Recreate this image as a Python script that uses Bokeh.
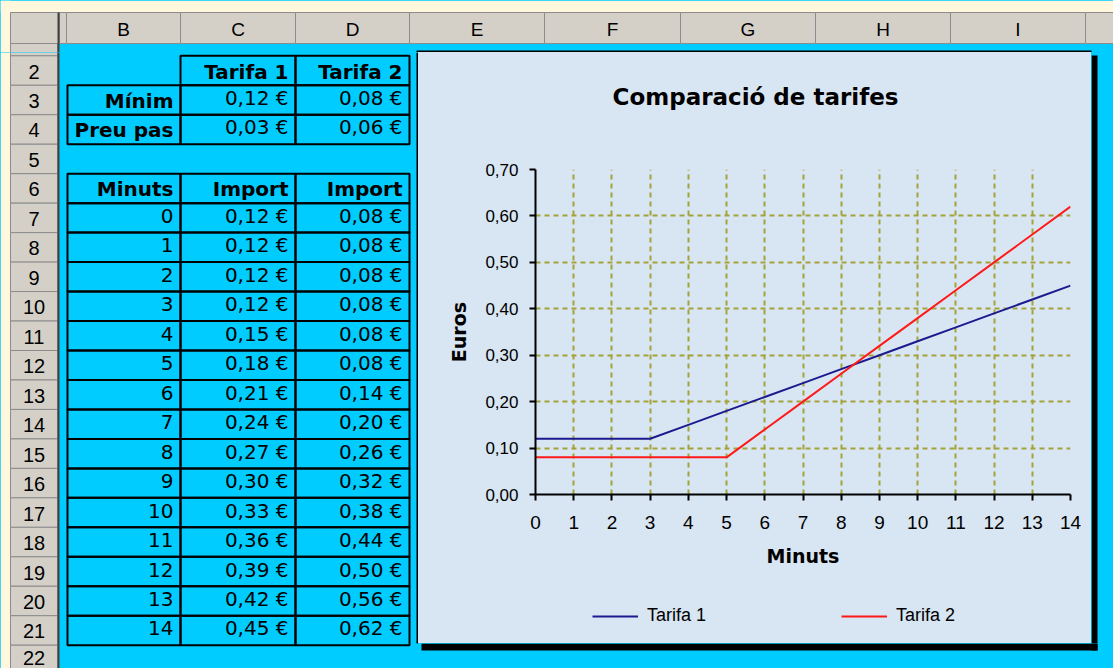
from bokeh.plotting import figure
from bokeh.layouts import column, row
from bokeh.models import (Range1d, ColumnDataSource, FixedTicker, CustomJSTickFormatter,
                          Legend, LegendItem, Label)
from bokeh.core.properties import value
from bokeh.embed import file_html
from bokeh.resources import INLINE

# ---------------- data ----------------
minuts = [0, 1, 2, 3, 4, 5, 6, 7, 8, 9, 10, 11, 12, 13, 14]
tarifa1 = [0.12, 0.12, 0.12, 0.12, 0.15, 0.18, 0.21, 0.24, 0.27, 0.30, 0.33, 0.36, 0.39, 0.42, 0.45]
tarifa2 = [0.08, 0.08, 0.08, 0.08, 0.08, 0.08, 0.14, 0.20, 0.26, 0.32, 0.38, 0.44, 0.50, 0.56, 0.62]
series_names = ["Tarifa 1", "Tarifa 2"]
param_names = ["Mínim", "Preu pas"]
minim = [0.12, 0.08]
preu_pas = [0.03, 0.06]
table_head = ["Minuts", "Import", "Import"]
col_letters = ["A", "B", "C", "D", "E", "F", "G", "H", "I", ""]
row_numbers = ["1", "2", "3", "4", "5", "6", "7", "8", "9", "10", "11",
               "12", "13", "14", "15", "16", "17", "18", "19", "20", "21", "22"]
y_ticks = [0.0, 0.1, 0.2, 0.3, 0.4, 0.5, 0.6, 0.7]
chart_title = "Comparació de tarifes"
x_title = "Minuts"
y_title = "Euros"

# ---------------- styles ----------------
CYAN = "#00CCFF"
CREAM = "#FFF8DC"
GREY = "#D4D0C8"
GREY_LINE = "#8C8C8C"
DARK = "#404040"
CHART_BG = "#D8E5F2"
GRID = "#A3A33A"
BLUE = "#1B1B8F"
RED = "#FF1A1A"
SANS = "Liberation Sans"
NARROW = "Liberation Sans Narrow, Liberation Sans"
WIDE = "DejaVu Sans"

# ---------------- geometry (reference pixels) ----------------
ORG = 0
PAGE_W, PAGE_H = 1113, 668
RIGHT_END, BOTTOM_END = ORG + PAGE_W, ORG + PAGE_H
CREAM_R, CREAM_B = 10, 12
HDR_T, HDR_B = 12, 43
RH_L, RH_R = 10, 57
COL_EDGES = [59, 66, 180, 295, 409, 544, 680, 815, 950, 1085, 1200]
ROW1_T, ROW2_T, ROW_H = 43, 55.3, 29.47
TBL_L = 67
PAD = 7
BOX_L, BOX_T, BOX_R, BOX_B = 418, 52, 1091, 643
TITLE_B, LEG_T = 140, 585
PLOT_L, PLOT_R, PLOT_T, PLOT_B = 535, 1070, 169, 494
SHADOW = 6
TITLE_X, TITLE_Y = 755, 96
LEG_X, LEG_Y, LEG_H = 592, 616, 20


def row_top(k):
    return ROW1_T if k == 1 else ROW2_T + (k - 2) * ROW_H


def row_bot(k):
    return row_top(k + 1)


def row_mid(k):
    return (row_top(k) + row_bot(k)) / 2


def eur(v):
    return f"{v:.2f} €".replace(".", ",")


# ---------------- spreadsheet pieces ----------------
fills = []  # l, r, t, b, fill, line, line_alpha
fills.append((0, CREAM_R, 0, 700, CREAM, CREAM, 0))
fills.append((0, 1200, 0, CREAM_B, CREAM, CREAM, 0))
fills.append((RH_L, COL_EDGES[0], HDR_T, HDR_B, GREY, GREY_LINE, 1))
for i in range(len(col_letters)):
    fills.append((COL_EDGES[i], COL_EDGES[i + 1], HDR_T, HDR_B, GREY, GREY_LINE, 1))
for k in range(1, len(row_numbers) + 1):
    fills.append((RH_L, RH_R, row_top(k), row_bot(k), GREY, GREY_LINE, 1))
fills.append((RH_R, COL_EDGES[0], HDR_T, 700, DARK, DARK, 0))
# chart object frame and shadow
fills.append((BOX_L - 2, BOX_R, BOX_T - 2, BOX_T, "black", "black", 0))
fills.append((BOX_L - 2, BOX_L, BOX_T, BOX_B, "black", "black", 0))
fills.append((BOX_R, BOX_R + SHADOW, BOX_T + 3, BOX_B + SHADOW + 1, "black", "black", 0))
fills.append((BOX_L + 3, BOX_R + SHADOW, BOX_B, BOX_B + SHADOW + 1, "black", "black", 0))

tbl_cols = [(TBL_L, COL_EDGES[2]), (COL_EDGES[2], COL_EDGES[3]), (COL_EDGES[3], COL_EDGES[4])]
cells = []
bold_txt = []
reg_txt = []
B_OFF, R_OFF = 1, -2

# parameter block (rows 2-4)
for j, name in enumerate(series_names):
    l, r = tbl_cols[j + 1]
    cells.append((l, r, row_top(2), row_bot(2)))
    bold_txt.append((r - PAD, row_mid(2) + B_OFF, name))
for i, (pname, vals) in enumerate(zip(param_names, [minim, preu_pas])):
    k = 3 + i
    l, r = tbl_cols[0]
    cells.append((l, r, row_top(k), row_bot(k)))
    bold_txt.append((r - PAD, row_mid(k) + B_OFF, pname))
    for j, v in enumerate(vals):
        l, r = tbl_cols[j + 1]
        cells.append((l, r, row_top(k), row_bot(k)))
        reg_txt.append((r - PAD, row_mid(k) + R_OFF, eur(v)))

# data block (rows 6-21)
for j, h in enumerate(table_head):
    l, r = tbl_cols[j]
    cells.append((l, r, row_top(6), row_bot(6)))
    bold_txt.append((r - PAD, row_mid(6) + B_OFF, h))
for i, (m, a, b) in enumerate(zip(minuts, tarifa1, tarifa2)):
    k = 7 + i
    for j, t in enumerate([str(m), eur(a), eur(b)]):
        l, r = tbl_cols[j]
        cells.append((l, r, row_top(k), row_bot(k)))
        reg_txt.append((r - PAD, row_mid(k) + R_OFF, t))

letter_txt = []
for i, c in enumerate(col_letters):
    if c and COL_EDGES[i + 1] - COL_EDGES[i] > 30:
        letter_txt.append(((COL_EDGES[i] + COL_EDGES[i + 1]) / 2, (HDR_T + HDR_B) / 2 + 1, c))
rownum_txt = []
for k, lab in enumerate(row_numbers, start=1):
    if k > 1:
        # keep the last, partly visible row's number inside the page
        rownum_txt.append(((RH_L + RH_R) / 2, min(row_mid(k) + 1, BOTTOM_END - 11), lab))


def sheet_fig(x0, x1, y0, y1):
    f = figure(width=round(x1 - x0), height=round(y1 - y0),
               x_range=Range1d(x0, x1), y_range=Range1d(y1, y0),
               output_backend="svg", toolbar_location=None,
               x_axis_location=None, y_axis_location=None, min_border=0,
               background_fill_color=CYAN, border_fill_color=CYAN, outline_line_color=None)
    f.grid.visible = False

    def inside_box(it):
        l, r, t, b = it[:4]
        return l < x1 and r > x0 and t < y1 and b > y0

    def inside_pt(it):
        return x0 <= it[0] <= x1 and y0 <= it[1] <= y1

    fl = [it for it in fills if inside_box(it)]
    if fl:
        src = ColumnDataSource(dict(l=[i[0] for i in fl], r=[i[1] for i in fl],
                                    t=[i[2] for i in fl], b=[i[3] for i in fl],
                                    fc=[i[4] for i in fl], lc=[i[5] for i in fl],
                                    la=[i[6] for i in fl]))
        f.quad(left="l", right="r", top="t", bottom="b", fill_color="fc",
               line_color="lc", line_alpha="la", line_width=1, source=src)
    cl = [it for it in cells if inside_box(it)]
    if cl:
        f.quad(left=[i[0] for i in cl], right=[i[1] for i in cl],
               top=[i[2] for i in cl], bottom=[i[3] for i in cl],
               fill_alpha=0, line_color="black", line_width=2)

    def txt(items, font, size, style, align):
        it = [i for i in items if inside_pt(i)]
        if it:
            f.text(x=[i[0] for i in it], y=[i[1] for i in it], text=[i[2] for i in it],
                   text_font=value(font), text_font_size=size, text_font_style=style,
                   text_align=align, text_baseline="middle", text_color="black")

    txt(letter_txt, NARROW, "19px", "normal", "center")
    txt(rownum_txt, NARROW, "20px", "normal", "center")
    txt(bold_txt, WIDE, "20px", "bold", "right")
    txt(reg_txt, WIDE, "20px", "normal", "right")
    return f


def strip_fig(y0, y1):
    # part of the chart object above / below the plot, frame aligned with the plot's frame
    f = figure(width=BOX_R - BOX_L, height=y1 - y0,
               x_range=Range1d(PLOT_L, PLOT_R), y_range=Range1d(y1, y0),
               output_backend="svg", toolbar_location=None,
               x_axis_location=None, y_axis_location=None,
               min_border_left=PLOT_L - BOX_L, min_border_right=BOX_R - PLOT_R,
               min_border_top=0, min_border_bottom=0,
               background_fill_color=CHART_BG, border_fill_color=CHART_BG, outline_line_color=None)
    f.grid.visible = False
    return f


hdr = sheet_fig(ORG, RIGHT_END, ORG, BOX_T)
left = sheet_fig(ORG, BOX_L, BOX_T, BOTTOM_END)
rside = sheet_fig(BOX_R, RIGHT_END, BOX_T, BOX_B)
bside = sheet_fig(BOX_L, RIGHT_END, BOX_B, BOTTOM_END)

# ---------------- chart title strip ----------------
tf = strip_fig(BOX_T, TITLE_B)
tf.add_layout(Label(x=TITLE_X, y=TITLE_Y, text=chart_title, text_align="center",
                    text_baseline="middle", text_font=WIDE, text_font_size="23px",
                    text_font_style="bold", text_color="black"))

# ---------------- chart ----------------
p = figure(width=BOX_R - BOX_L, height=LEG_T - TITLE_B,
           x_range=Range1d(min(minuts), max(minuts)), y_range=Range1d(0, y_ticks[-1]),
           output_backend="svg", toolbar_location=None,
           min_border_left=PLOT_L - BOX_L, min_border_right=BOX_R - PLOT_R,
           min_border_top=PLOT_T - TITLE_B, min_border_bottom=LEG_T - PLOT_B,
           background_fill_color=CHART_BG, border_fill_color=CHART_BG, outline_line_color=None)
p.xaxis.ticker = FixedTicker(ticks=minuts)
p.yaxis.ticker = FixedTicker(ticks=y_ticks)
p.yaxis.formatter = CustomJSTickFormatter(code="return tick.toFixed(2).replace('.', ',');")
for g in (p.xgrid, p.ygrid):
    g.grid_line_color = GRID
    g.grid_line_dash = "5 4"
    g.grid_line_width = 2
p.xgrid.ticker = FixedTicker(ticks=minuts)
p.ygrid.ticker = FixedTicker(ticks=y_ticks)
for ax in (p.xaxis, p.yaxis):
    ax.axis_line_color = "black"
    ax.axis_line_width = 2
    ax.major_tick_line_color = "black"
    ax.major_tick_line_width = 2
    ax.major_tick_out = 6
    ax.major_tick_in = 0
    ax.minor_tick_out = 0
    ax.minor_tick_in = 0
    ax.major_label_text_color = "black"
    ax.axis_label_text_font = WIDE
    ax.axis_label_text_font_style = "bold"
    ax.axis_label_text_font_size = "19px"
    ax.axis_label_text_color = "black"
p.xaxis.major_label_text_font = SANS
p.xaxis.major_label_text_font_size = "19px"
p.xaxis.major_label_standoff = 15
p.xaxis.axis_label = x_title
p.xaxis.axis_label_standoff = 13
p.yaxis.major_label_text_font = SANS
p.yaxis.major_label_text_font_size = "17px"
p.yaxis.major_label_standoff = 11
p.yaxis.axis_label = y_title
p.yaxis.axis_label_standoff = 12

p.line(minuts, tarifa1, line_color=BLUE, line_width=2)
p.line(minuts, tarifa2, line_color=RED, line_width=2)

# ---------------- legend strip ----------------
lf = strip_fig(LEG_T, BOX_B)
r1 = lf.line(minuts, tarifa1, line_color=BLUE, line_width=2)
r2 = lf.line(minuts, tarifa2, line_color=RED, line_width=2)
leg = Legend(items=[LegendItem(label=series_names[0], renderers=[r1]),
                    LegendItem(label=series_names[1], renderers=[r2])],
             orientation="horizontal",
             location=(LEG_X - PLOT_L, BOX_B - (LEG_Y + LEG_H / 2)),
             padding=0, margin=0, spacing=124, glyph_width=46, glyph_height=LEG_H,
             label_height=LEG_H, label_width=70, label_standoff=9,
             label_text_font=SANS, label_text_font_size="18px",
             label_text_color="black", label_text_baseline="middle",
             border_line_alpha=0, background_fill_alpha=0)
lf.add_layout(leg)

chart_col = column(tf, p, lf, styles={"background-color": CHART_BG})
layout = column(hdr,
                row(left,
                    column(row(chart_col, rside), bside)),
                styles={"background-color": CYAN})

open("out.html", "w").write(file_html(layout, INLINE))
